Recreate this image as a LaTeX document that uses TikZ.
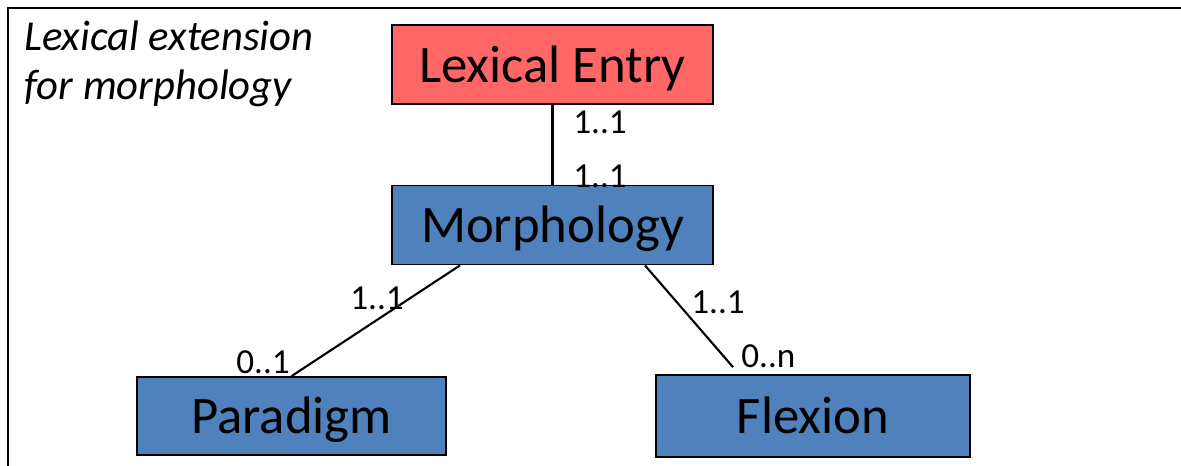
\documentclass[tikz,border=0pt]{standalone}
\usepackage{fontspec}
\setmainfont{Carlito}
\usetikzlibrary{positioning}
\definecolor{entryred}{HTML}{FF6666}
\definecolor{morphblue}{HTML}{4F81BD}

\begin{document}
\begin{tikzpicture}[x=0.02cm,y=-0.02cm,
        box/.style={rectangle,draw,line width=1pt,minimum width=6.42cm,minimum height=1.58cm,inner sep=0pt,
            text height=21pt,text depth=1pt,font=\fontsize{30}{34}\selectfont},
        card/.style={font=\fontsize{20}{22}\selectfont,inner sep=0pt,anchor=base west}]
            \useasboundingbox (0,0) rectangle (1181,466);
            \draw [line width=1.2pt] (8,490) -- (8,8) -- (1200,8);

            \node [font=\itshape\fontsize{24.3}{27.5}\selectfont,align=left,anchor=north west,inner sep=0pt] (caption) at (24,21) {Lexical extension\\for morphology};

            \node [box,fill=entryred] (Entry) at (552.5,64.5) {Lexical Entry};
            \node [box,fill=morphblue] (Morph) at (552.5,225) {Morphology};
            \node [box,fill=morphblue,minimum width=6.18cm,minimum height=1.56cm] (Paradigm) at (291.5,416) {Paradigm};
            \node [box,fill=morphblue,minimum width=6.28cm,minimum height=1.64cm] (Flexion) at (813,416) {Flexion};

            \coordinate (flexend) at ([xshift=-1.6cm,yshift=0.14cm]Flexion.north);
            \draw [line width=1.2pt] (Entry) -- (Morph);
            \draw [line width=1.2pt] ([xshift=-1.85cm]Morph.south) -- (Paradigm.north);
            \draw [line width=1.2pt] ([xshift=1.85cm]Morph.south) -- (flexend);

            \node [card] (entrycard) at (573,133) {1..1};
            \node [card] (morphcard) at (573,188) {1..1};
            \node [card] (morphleft) at (350,309) {1..1};
            \node [card] (paracard) at (236,373) {0..1};
            \node [card] (morphright) at (691,314) {1..1};
            \node [card] (flexcard) at (741,367) {0..n};
        \end{tikzpicture}
\end{document}
